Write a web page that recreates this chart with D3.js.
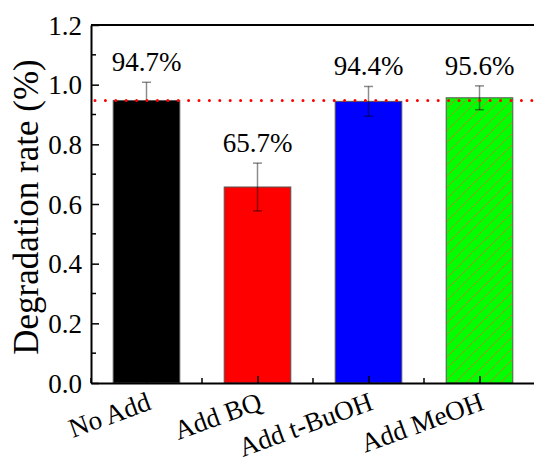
<!DOCTYPE html>
<html><head><meta charset="utf-8">
<script src="https://cdn.jsdelivr.net/npm/d3@7"></script>
</head><body style="margin:0;background:#fff">
<svg id="c" width="534" height="461" font-family="Liberation Serif"></svg>
<script>
const categories = ["No Add", "Add BQ", "Add t-BuOH", "Add MeOH"];
const values = [0.947, 0.657, 0.944, 0.956];
const errors = [0.061, 0.08, 0.05, 0.04];
const labels = ["94.7%", "65.7%", "94.4%", "95.6%"];
const colors = ["#000000", "#ff0000", "#0000ff", "#00ff00"];
const refLine = 0.947;
const yTicks = [0, 0.2, 0.4, 0.6, 0.8, 1.0, 1.2];

const FONT = "Liberation Serif";
const svg = d3.select("#c");
const m = {l: 91, t: 25, r: 535, b: 383};
const x = d3.scaleBand().domain(categories).range([m.l, m.r]).paddingInner(0.4).paddingOuter(0.2);
const xc = d3.scalePoint().domain(categories).range([m.l, m.r]).padding(0.5);
const y = d3.scaleLinear().domain([0, 1.2]).range([m.b, m.t]);

// hatch pattern
const defs = svg.append("defs");
const pat = defs.append("pattern").attr("id", "hatch").attr("patternUnits", "userSpaceOnUse")
  .attr("width", 8).attr("height", 8).attr("patternTransform", "rotate(45)");
pat.append("rect").attr("width", 8).attr("height", 8).attr("fill", "#00ff00");
pat.append("line").attr("x1", 0.5).attr("y1", 0).attr("x2", 0.5).attr("y2", 8)
  .attr("stroke", "#c8782a").attr("stroke-width", 1).attr("stroke-dasharray", "1.5,1");

// bars
svg.selectAll("rect.bar").data(categories).join("rect").attr("class", "bar")
  .attr("x", d => x(d)).attr("width", x.bandwidth())
  .attr("y", (d, i) => y(values[i])).attr("height", (d, i) => y(0) - y(values[i]))
  .attr("fill", (d, i) => i === 3 ? "url(#hatch)" : colors[i])
  .attr("stroke", "#555").attr("stroke-width", 1);

// error bars
const eg = svg.append("g").attr("stroke", "#000").attr("stroke-opacity", 0.45).attr("stroke-width", 1.5);
categories.forEach((c, i) => {
  const cx = xc(c);
  eg.append("line").attr("x1", cx).attr("x2", cx).attr("y1", y(values[i] + errors[i])).attr("y2", y(values[i] - errors[i]));
  [1, -1].forEach(s => eg.append("line").attr("x1", cx - 4.5).attr("x2", cx + 4.5)
    .attr("y1", y(values[i] + s * errors[i])).attr("y2", y(values[i] + s * errors[i])));
});

// reference dotted line
svg.append("line").attr("x1", m.l + 4).attr("x2", 534).attr("y1", y(refLine)).attr("y2", y(refLine))
  .attr("stroke", "#ff0000").attr("stroke-width", 3).attr("stroke-dasharray", "0,10.4").attr("stroke-linecap", "round");

// value labels
svg.selectAll("text.val").data(categories).join("text").attr("class", "val")
  .attr("x", d => xc(d)).attr("y", (d, i) => y(values[i] + errors[i]) - 11)
  .attr("text-anchor", "middle").attr("font-family", FONT).attr("font-size", 27).text((d, i) => labels[i]);

// frame
svg.append("line").attr("x1", m.l).attr("x2", m.r).attr("y1", m.t).attr("y2", m.t).attr("stroke", "#000").attr("stroke-width", 2);
svg.append("line").attr("x1", m.r).attr("x2", m.r).attr("y1", m.t).attr("y2", m.b).attr("stroke", "#000").attr("stroke-width", 2);

// y axis
const yAx = svg.append("g").attr("transform", `translate(${m.l},0)`)
  .call(d3.axisLeft(y).tickValues(yTicks).tickFormat(d3.format(".1f")).tickSizeInner(-8).tickSizeOuter(0).tickPadding(9));
yAx.attr("font-family", FONT).attr("font-size", 27);
yAx.select(".domain").attr("stroke-width", 2);
yAx.selectAll(".tick line").attr("stroke-width", 1.5);
yAx.selectAll("text").attr("dy", "0.34em");
// y minor ticks
const yMinor = yTicks.slice(0, -1).map(v => v + 0.1);
svg.append("g").selectAll("line").data(yMinor).join("line")
  .attr("x1", m.l).attr("x2", m.l + 5).attr("y1", d => y(d)).attr("y2", d => y(d)).attr("stroke", "#000").attr("stroke-width", 1.5);

// x axis
const xAx = svg.append("g").attr("transform", `translate(0,${m.b})`)
  .call(d3.axisBottom(xc).tickSizeInner(-7).tickSizeOuter(0).tickFormat(""));
xAx.select(".domain").attr("stroke-width", 2);
xAx.selectAll(".tick line").attr("stroke-width", 1.5);
const step = xc.step();
svg.append("g").selectAll("line").data(categories).join("line")
  .attr("x1", d => xc(d) - step / 2).attr("x2", d => xc(d) - step / 2)
  .attr("y1", m.b).attr("y2", m.b - 5).attr("stroke", "#000").attr("stroke-width", 1.5);

svg.selectAll("text.xl").data(categories).join("text").attr("class", "xl")
  .attr("text-anchor", "end").attr("font-family", FONT).attr("font-size", 27)
  .attr("transform", d => `translate(${xc(d) + 6},${m.b + 26}) rotate(-20)`)
  .text(d => d);

// y title
svg.append("text").attr("transform", `translate(38,${(m.t + m.b) / 2 + 3}) rotate(-90)`)
  .attr("text-anchor", "middle").attr("font-family", FONT).attr("font-size", 35).text("Degradation rate (%)");
</script>
</body></html>
